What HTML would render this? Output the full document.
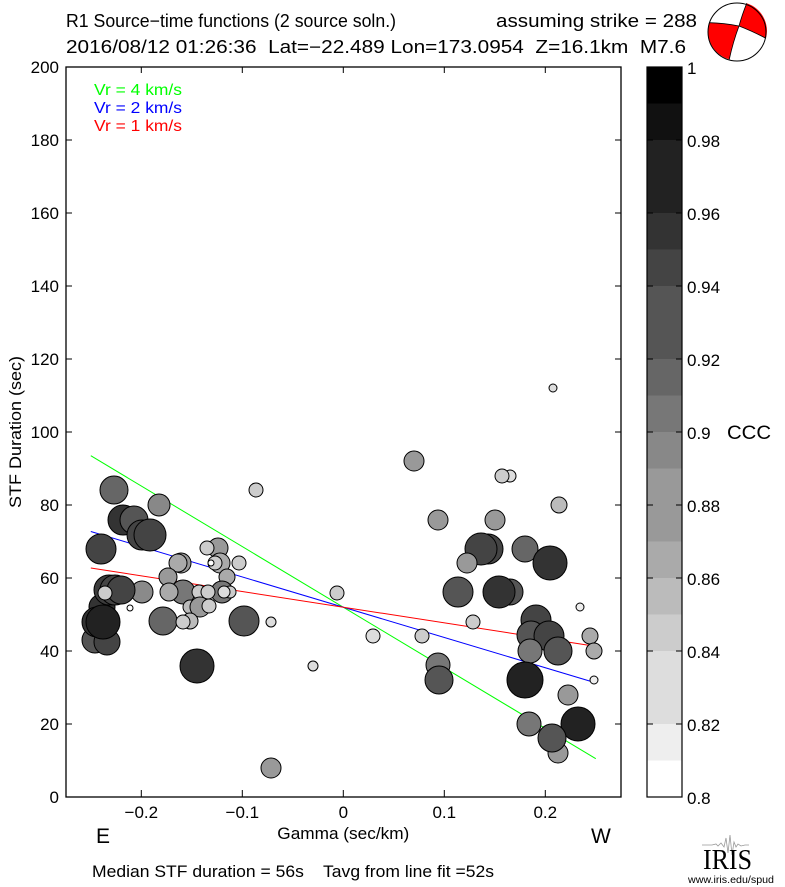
<!DOCTYPE html>
<html>
<head>
<meta charset="utf-8">
<style>
html,body{margin:0;padding:0;background:#fff;}
svg{display:block;}
text{font-family:"Liberation Sans",Arial,sans-serif;fill:#000;}
</style>
</head>
<body>
<svg width="785" height="887" viewBox="0 0 785 887" xmlns="http://www.w3.org/2000/svg">
<rect x="0" y="0" width="785" height="887" fill="#fff"/>

<!-- Titles -->
<text x="66" y="27" font-size="18" textLength="330" lengthAdjust="spacingAndGlyphs">R1 Source−time functions (2 source soln.)</text>
<text x="66" y="53" font-size="18" textLength="620" lengthAdjust="spacingAndGlyphs" xml:space="preserve" style="white-space:pre">2016/08/12 01:26:36  Lat=−22.489 Lon=173.0954  Z=16.1km  M7.6</text>
<text x="496" y="27" font-size="18" textLength="201" lengthAdjust="spacingAndGlyphs">assuming strike = 288</text>

<!-- Beachball -->
<circle cx="737" cy="32" r="29" fill="#fff"/>
<path d="M746.7,3.3 Q742,15 739,26 Q752,31 766,38.3 A29,29 0 0,0 746.7,3.3 Z" fill="#f00"/>
<path d="M709.3,22.7 Q724,23 739,26 Q733,42 729.3,59.3 A29,29 0 0,1 709.3,22.7 Z" fill="#f00"/>
<path d="M746.7,3.3 Q742,15 739,26 Q733,42 729.3,59.3" fill="none" stroke="#000" stroke-width="0.8"/>
<path d="M709.3,22.7 Q724,23 739,26 Q752,31 766,38.3" fill="none" stroke="#000" stroke-width="0.8"/>
<circle cx="737" cy="32" r="29" fill="none" stroke="#000" stroke-width="1"/>

<!-- Fit lines -->
<line x1="90.8" y1="455.7" x2="595.8" y2="758.7" stroke="#00ff00" stroke-width="1"/>
<line x1="90.8" y1="531.5" x2="595.8" y2="682.9" stroke="#0000ff" stroke-width="1"/>
<line x1="90.8" y1="568" x2="595.8" y2="646.4" stroke="#ff0000" stroke-width="1"/>

<!-- Circles -->
<g stroke="#000" stroke-width="1">
<!-- upper-left group -->
<circle cx="114" cy="490" r="14" fill="#666"/>
<circle cx="159" cy="505" r="11" fill="#888"/>
<circle cx="123" cy="520" r="15" fill="#333"/>
<circle cx="134" cy="520" r="14" fill="#555"/>
<circle cx="142" cy="535" r="15" fill="#444"/>
<circle cx="150" cy="535" r="16" fill="#444"/>
<circle cx="101" cy="549" r="15" fill="#444"/>
<circle cx="256" cy="490" r="7" fill="#ccc"/>

<!-- dark lower-left cluster -->
<circle cx="102" cy="607" r="13" fill="#333"/>
<circle cx="95" cy="640" r="13" fill="#555"/>
<circle cx="107" cy="642" r="13" fill="#444"/>
<circle cx="97" cy="622" r="15" fill="#333"/>
<circle cx="103" cy="622" r="17" fill="#222"/>
<circle cx="142" cy="592" r="11" fill="#8a8a8a"/>
<circle cx="109" cy="590" r="15" fill="#3c3c3c"/>
<circle cx="115" cy="590" r="15" fill="#444"/>
<circle cx="121" cy="590" r="14" fill="#444"/>
<circle cx="105" cy="593" r="7" fill="#ccc"/>
<circle cx="130" cy="608" r="3" fill="#fff"/>

<!-- middle-left cluster -->
<circle cx="218" cy="548" r="10" fill="#999"/>
<circle cx="207" cy="548" r="7" fill="#ccc"/>
<circle cx="181" cy="563" r="10" fill="#999"/>
<circle cx="178" cy="563" r="9" fill="#aaa"/>
<circle cx="220" cy="563" r="10" fill="#aaa"/>
<circle cx="215" cy="563" r="7" fill="#ccc"/>
<circle cx="211" cy="563" r="3" fill="#fff"/>
<circle cx="239" cy="563" r="7" fill="#ccc"/>
<circle cx="168" cy="577" r="9" fill="#999"/>
<circle cx="227" cy="577" r="8" fill="#aaa"/>
<circle cx="183" cy="592" r="12" fill="#777"/>
<circle cx="169" cy="592" r="9" fill="#aaa"/>
<circle cx="222" cy="592" r="11" fill="#777"/>
<circle cx="199" cy="592" r="7" fill="#ccc"/>
<circle cx="208" cy="592" r="7" fill="#ccc"/>
<circle cx="230" cy="592" r="6" fill="#ccc"/>
<circle cx="224" cy="592" r="6" fill="#ddd"/>
<circle cx="190" cy="607" r="7" fill="#bbb"/>
<circle cx="200" cy="607" r="10" fill="#999"/>
<circle cx="209" cy="606" r="7" fill="#ccc"/>
<circle cx="163" cy="621" r="14" fill="#666"/>
<circle cx="190" cy="621" r="8" fill="#bbb"/>
<circle cx="183" cy="622" r="7" fill="#ccc"/>
<circle cx="244" cy="621" r="15" fill="#555"/>
<circle cx="271" cy="622" r="5" fill="#ddd"/>
<circle cx="197" cy="666" r="17" fill="#333"/>
<circle cx="313" cy="666" r="5" fill="#ddd"/>
<circle cx="271" cy="768" r="10" fill="#999"/>
<circle cx="337" cy="593" r="7" fill="#ccc"/>
<circle cx="373" cy="636" r="7" fill="#ddd"/>

<!-- right side -->
<circle cx="414" cy="461" r="10" fill="#999"/>
<circle cx="510" cy="476" r="6" fill="#ddd"/>
<circle cx="502" cy="476" r="7" fill="#ccc"/>
<circle cx="553" cy="388" r="4" fill="#ddd"/>
<circle cx="559" cy="505" r="8" fill="#bbb"/>
<circle cx="438" cy="520" r="10" fill="#999"/>
<circle cx="495" cy="520" r="10" fill="#999"/>
<circle cx="488" cy="549" r="15" fill="#444"/>
<circle cx="481" cy="549" r="16" fill="#444"/>
<circle cx="525" cy="549" r="13" fill="#666"/>
<circle cx="467" cy="563" r="10" fill="#999"/>
<circle cx="550" cy="563" r="17" fill="#333"/>
<circle cx="458" cy="592" r="15" fill="#555"/>
<circle cx="510" cy="592" r="13" fill="#555"/>
<circle cx="499" cy="592" r="16" fill="#333"/>
<circle cx="580" cy="607" r="4" fill="#eee"/>
<circle cx="473" cy="622" r="7" fill="#ccc"/>
<circle cx="536" cy="620" r="15" fill="#444"/>
<circle cx="531" cy="635" r="14" fill="#555"/>
<circle cx="549" cy="636" r="15" fill="#444"/>
<circle cx="530" cy="651" r="12" fill="#777"/>
<circle cx="558" cy="651" r="14" fill="#555"/>
<circle cx="590" cy="636" r="8" fill="#aaa"/>
<circle cx="594" cy="651" r="8" fill="#aaa"/>
<circle cx="422" cy="636" r="7" fill="#ccc"/>
<circle cx="438" cy="665" r="12" fill="#777"/>
<circle cx="439" cy="680" r="14" fill="#555"/>
<circle cx="525" cy="680" r="18" fill="#222"/>
<circle cx="594" cy="680" r="4" fill="#eee"/>
<circle cx="568" cy="695" r="10" fill="#999"/>
<circle cx="578" cy="724" r="17" fill="#222"/>
<circle cx="529" cy="724" r="12" fill="#777"/>
<circle cx="558" cy="753" r="10" fill="#999"/>
<circle cx="552" cy="738" r="14" fill="#555"/>
</g>

<!-- Legend -->
<text x="94" y="95" font-size="16" fill="#00ff00" style="fill:#00ff00" textLength="88" lengthAdjust="spacingAndGlyphs">Vr = 4 km/s</text>
<text x="94" y="113" font-size="16" style="fill:#0000ff" textLength="88" lengthAdjust="spacingAndGlyphs">Vr = 2 km/s</text>
<text x="94" y="131" font-size="16" style="fill:#ff0000" textLength="88" lengthAdjust="spacingAndGlyphs">Vr = 1 km/s</text>

<!-- Axes box -->
<rect x="66" y="67" width="555" height="730" fill="none" stroke="#000" stroke-width="1.3"/>
<g stroke="#000" stroke-width="1">
<!-- y ticks left & right -->
<line x1="66" y1="140" x2="72" y2="140"/><line x1="621" y1="140" x2="615" y2="140"/>
<line x1="66" y1="213" x2="72" y2="213"/><line x1="621" y1="213" x2="615" y2="213"/>
<line x1="66" y1="286" x2="72" y2="286"/><line x1="621" y1="286" x2="615" y2="286"/>
<line x1="66" y1="359" x2="72" y2="359"/><line x1="621" y1="359" x2="615" y2="359"/>
<line x1="66" y1="432" x2="72" y2="432"/><line x1="621" y1="432" x2="615" y2="432"/>
<line x1="66" y1="505" x2="72" y2="505"/><line x1="621" y1="505" x2="615" y2="505"/>
<line x1="66" y1="578" x2="72" y2="578"/><line x1="621" y1="578" x2="615" y2="578"/>
<line x1="66" y1="651" x2="72" y2="651"/><line x1="621" y1="651" x2="615" y2="651"/>
<line x1="66" y1="724" x2="72" y2="724"/><line x1="621" y1="724" x2="615" y2="724"/>
<!-- x ticks top & bottom -->
<line x1="141.3" y1="797" x2="141.3" y2="790"/><line x1="141.3" y1="67" x2="141.3" y2="73"/>
<line x1="242.3" y1="797" x2="242.3" y2="790"/><line x1="242.3" y1="67" x2="242.3" y2="73"/>
<line x1="343.3" y1="797" x2="343.3" y2="790"/><line x1="343.3" y1="67" x2="343.3" y2="73"/>
<line x1="444.3" y1="797" x2="444.3" y2="790"/><line x1="444.3" y1="67" x2="444.3" y2="73"/>
<line x1="545.3" y1="797" x2="545.3" y2="790"/><line x1="545.3" y1="67" x2="545.3" y2="73"/>
</g>

<!-- Y tick labels -->
<g font-size="17" text-anchor="end">
<text x="59" y="73">200</text>
<text x="59" y="146">180</text>
<text x="59" y="219">160</text>
<text x="59" y="292">140</text>
<text x="59" y="365">120</text>
<text x="59" y="438">100</text>
<text x="59" y="511">80</text>
<text x="59" y="584">60</text>
<text x="59" y="657">40</text>
<text x="59" y="730">20</text>
<text x="59" y="803">0</text>
</g>
<text transform="translate(21,432) rotate(-90)" font-size="17" text-anchor="middle" textLength="152" lengthAdjust="spacingAndGlyphs">STF Duration (sec)</text>

<!-- X tick labels -->
<g font-size="17" text-anchor="middle">
<text x="141.3" y="818">−0.2</text>
<text x="242.3" y="818">−0.1</text>
<text x="343.3" y="818">0</text>
<text x="444.3" y="818">0.1</text>
<text x="545.3" y="818">0.2</text>
</g>
<text x="343.3" y="839" font-size="17" text-anchor="middle" textLength="132" lengthAdjust="spacingAndGlyphs">Gamma (sec/km)</text>
<text x="96" y="843" font-size="21">E</text>
<text x="591" y="843" font-size="21">W</text>
<text x="92" y="877" font-size="17" textLength="402" lengthAdjust="spacingAndGlyphs" xml:space="preserve" style="white-space:pre">Median STF duration = 56s    Tavg from line fit =52s</text>

<!-- Colorbar -->
<g stroke="none">
<rect x="647" y="67" width="35" height="37" fill="#000"/>
<rect x="647" y="103.5" width="35" height="37" fill="#111"/>
<rect x="647" y="140" width="35" height="73.5" fill="#222"/>
<rect x="647" y="213" width="35" height="37" fill="#333"/>
<rect x="647" y="249.5" width="35" height="37" fill="#444"/>
<rect x="647" y="286" width="35" height="73.5" fill="#555"/>
<rect x="647" y="359" width="35" height="37" fill="#666"/>
<rect x="647" y="395.5" width="35" height="37" fill="#777"/>
<rect x="647" y="432" width="35" height="37" fill="#888"/>
<rect x="647" y="468.5" width="35" height="73.5" fill="#999"/>
<rect x="647" y="541.5" width="35" height="37" fill="#aaa"/>
<rect x="647" y="578" width="35" height="37" fill="#bbb"/>
<rect x="647" y="614.5" width="35" height="37" fill="#ccc"/>
<rect x="647" y="651" width="35" height="73.5" fill="#ddd"/>
<rect x="647" y="724" width="35" height="37" fill="#eee"/>
<rect x="647" y="760.5" width="35" height="36.5" fill="#fff"/>
</g>
<rect x="647" y="67" width="35" height="730" fill="none" stroke="#000" stroke-width="1.2"/>
<g stroke="#000" stroke-width="1">
<line x1="647" y1="140" x2="653" y2="140"/><line x1="682" y1="140" x2="676" y2="140"/>
<line x1="647" y1="213" x2="653" y2="213"/><line x1="682" y1="213" x2="676" y2="213"/>
<line x1="647" y1="286" x2="653" y2="286"/><line x1="682" y1="286" x2="676" y2="286"/>
<line x1="647" y1="359" x2="653" y2="359"/><line x1="682" y1="359" x2="676" y2="359"/>
<line x1="647" y1="432" x2="653" y2="432"/><line x1="682" y1="432" x2="676" y2="432"/>
<line x1="647" y1="505" x2="653" y2="505"/><line x1="682" y1="505" x2="676" y2="505"/>
<line x1="647" y1="578" x2="653" y2="578"/><line x1="682" y1="578" x2="676" y2="578"/>
<line x1="647" y1="651" x2="653" y2="651"/><line x1="682" y1="651" x2="676" y2="651"/>
<line x1="647" y1="724" x2="653" y2="724"/><line x1="682" y1="724" x2="676" y2="724"/>
</g>
<g font-size="17">
<text x="687" y="74">1</text>
<text x="687" y="147">0.98</text>
<text x="687" y="220">0.96</text>
<text x="687" y="293">0.94</text>
<text x="687" y="366">0.92</text>
<text x="687" y="439">0.9</text>
<text x="687" y="512">0.88</text>
<text x="687" y="585">0.86</text>
<text x="687" y="658">0.84</text>
<text x="687" y="731">0.82</text>
<text x="687" y="804">0.8</text>
</g>
<text x="727" y="439" font-size="19" textLength="44" lengthAdjust="spacingAndGlyphs">CCC</text>

<!-- IRIS logo -->
<polyline points="702,845 712,845 716,844 718,846 721,843 724,847 726,838 728,853 730,835 732,855 734,842 736,847 738,844 741,846 745,845 749,845" fill="none" stroke="#999" stroke-width="0.8"/>
<text x="703" y="869" font-size="29" textLength="49" lengthAdjust="spacingAndGlyphs" style="font-family:'Liberation Serif','Times New Roman',serif">IRIS</text>
<text x="688" y="883" font-size="10" textLength="86" lengthAdjust="spacingAndGlyphs">www.iris.edu/spud</text>
</svg>
</body>
</html>
